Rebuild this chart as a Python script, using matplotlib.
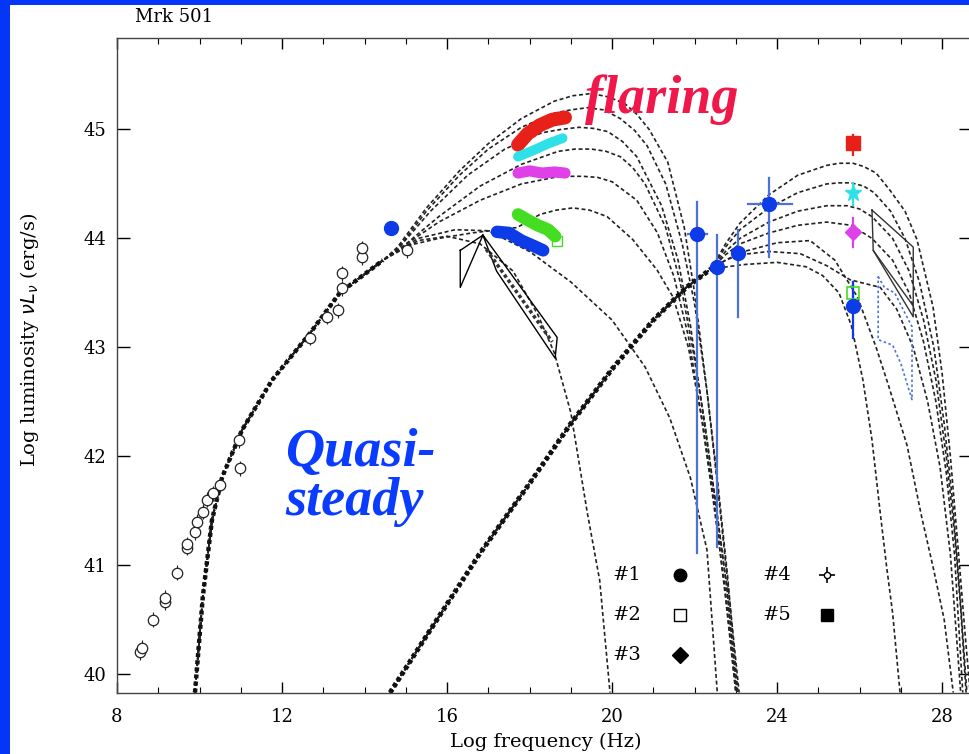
import matplotlib.pyplot as plt
from matplotlib.patches import Rectangle
from matplotlib.ticker import MultipleLocator

W, H = 969, 754

# ---- synchrotron models: shared low-frequency branch + one tail per model
sync_base_nu = [9.89, 10.08, 10.30, 10.55, 11.03, 11.76, 12.68, 13.40, 14.45]
sync_base_L = [39.83, 40.71, 41.41, 41.81, 42.24, 42.70, 43.13, 43.50, 43.80]

syn_q_nu = [15.3, 16.0, 16.8, 17.6, 18.2, 18.6, 19.0, 19.4, 19.7, 19.95]
syn_q_L = [43.98, 44.02, 43.95, 43.70, 43.30, 42.95, 42.40, 41.48, 40.86, 39.83]
syn_f_nu = [15.3, 16.2, 17.0, 18.0, 19.0, 20.0, 20.8, 21.4, 21.9, 22.3, 22.55]
syn_f_L = [44.00, 44.08, 44.07, 43.88, 43.60, 43.25, 42.82, 42.35, 41.80, 41.14, 39.83]
syn_e_nu = [15.0, 15.8, 16.6, 17.7, 18.25, 18.65, 19.05, 19.45, 19.88, 20.5, 21.09, 21.48, 21.85, 22.2, 22.5, 22.75, 23.0]
syn_e_L = [43.93, 44.00, 44.05, 44.10, 44.22, 44.26, 44.28, 44.26, 44.20, 43.99, 43.71, 43.46, 43.00, 42.30, 41.50, 40.70, 39.83]
syn_d_nu = [14.9, 15.8, 16.8, 17.8, 18.6, 18.95, 19.3, 19.65, 20.0, 20.6, 21.1, 21.5, 21.85, 22.15, 22.45, 22.75, 23.0]
syn_d_L = [43.92, 44.15, 44.35, 44.50, 44.56, 44.57, 44.57, 44.56, 44.52, 44.35, 44.05, 43.65, 43.10, 42.40, 41.60, 40.75, 39.83]
syn_c_nu = [14.85, 15.8, 16.8, 17.8, 18.7, 19.1, 19.5, 19.85, 20.2, 20.5, 20.8, 21.3, 21.65, 21.95, 22.25, 22.5, 22.78, 23.02]
syn_c_L = [43.90, 44.20, 44.48, 44.68, 44.80, 44.82, 44.82, 44.80, 44.75, 44.65, 44.50, 44.10, 43.60, 43.00, 42.30, 41.60, 40.80, 39.83]
syn_b_nu = [14.8, 15.6, 16.5, 17.4, 18.3, 18.75, 19.2, 19.55, 19.9, 20.25, 20.6, 21.2, 21.6, 21.9, 22.2, 22.5, 22.78, 23.03]
syn_b_L = [43.90, 44.25, 44.58, 44.82, 44.97, 45.00, 45.02, 45.01, 44.98, 44.89, 44.75, 44.30, 43.80, 43.20, 42.40, 41.60, 40.80, 39.83]
syn_a2_nu = [14.8, 15.5, 16.3, 17.0, 17.8, 18.6, 19.0, 19.4, 19.8, 20.2, 20.55, 20.85, 21.3, 21.7, 22.0, 22.3, 22.55, 22.8, 23.05]
syn_a2_L = [43.90, 44.25, 44.58, 44.82, 45.02, 45.15, 45.18, 45.20, 45.18, 45.10, 44.99, 44.85, 44.50, 43.95, 43.40, 42.60, 41.80, 40.90, 39.83]
syn_a_nu = [14.8, 15.5, 16.3, 17.0, 17.8, 18.6, 19.05, 19.5, 19.9, 20.3, 20.6, 20.9, 21.35, 21.75, 22.0, 22.3, 22.55, 22.8, 23.08]
syn_a_L = [43.92, 44.28, 44.62, 44.87, 45.10, 45.26, 45.31, 45.33, 45.30, 45.24, 45.14, 45.00, 44.70, 44.10, 43.50, 42.60, 41.75, 40.85, 39.83]

# ---- inverse Compton models: shared rising branch + tails
ic_base_nu = [14.62, 15.5, 16.8, 18.0, 19.0, 20.0, 21.0, 21.8, 22.4]
ic_base_L = [39.83, 40.35, 41.11, 41.75, 42.30, 42.80, 43.25, 43.55, 43.72]

ic_a_nu = [22.75, 23.1, 23.8, 24.5, 25.2, 25.5, 25.84, 26.1, 26.4, 26.74, 27.1, 27.39, 27.78, 28.0, 28.2, 28.4, 28.55, 28.68]
ic_a_L = [43.95, 44.14, 44.40, 44.58, 44.67, 44.69, 44.69, 44.66, 44.60, 44.44, 44.25, 43.99, 43.37, 42.76, 42.00, 41.10, 40.40, 39.83]
ic_b_nu = [22.75, 23.1, 23.8, 24.5, 25.2, 25.5, 25.8, 26.1, 26.35, 26.75, 27.1, 27.45, 27.8, 28.05, 28.25, 28.42, 28.6]
ic_b_L = [43.92, 44.08, 44.28, 44.42, 44.50, 44.51, 44.51, 44.48, 44.42, 44.25, 44.00, 43.60, 43.00, 42.30, 41.60, 40.80, 39.83]
ic_c_nu = [22.75, 23.1, 23.8, 24.5, 25.2, 25.7, 26.0, 26.3, 26.8, 27.2, 27.55, 27.85, 28.1, 28.3, 28.45, 28.58]
ic_c_L = [43.88, 44.00, 44.15, 44.25, 44.30, 44.30, 44.27, 44.20, 44.00, 43.70, 43.25, 42.70, 42.00, 41.30, 40.60, 39.83]
ic_d_nu = [22.75, 23.1, 23.8, 24.5, 25.2, 25.8, 26.3, 26.8, 27.2, 27.55, 27.85, 28.1, 28.3, 28.5]
ic_d_L = [43.85, 43.95, 44.05, 44.12, 44.15, 44.12, 44.00, 43.80, 43.50, 43.05, 42.50, 41.85, 41.10, 39.83]
ic_e_nu = [22.75, 23.1, 23.8, 24.56, 25.2, 25.77, 26.5, 26.9, 27.3, 27.65, 27.95, 28.2, 28.45]
ic_e_L = [43.80, 43.85, 43.88, 43.86, 43.75, 43.62, 43.55, 43.35, 43.00, 42.50, 41.90, 41.10, 39.83]
ic_l2_nu = [22.8, 23.2, 24.0, 24.8, 25.4, 25.95, 26.4, 26.7, 27.15, 27.5, 27.8, 28.05, 28.27]
ic_l2_L = [43.81, 43.88, 43.96, 43.98, 43.80, 43.46, 43.00, 42.65, 42.10, 41.45, 40.95, 40.50, 39.83]
ic_l1_nu = [22.8, 23.2, 24.0, 24.7, 25.1, 25.5, 25.8, 26.08, 26.3, 26.5, 26.65, 26.8, 26.98]
ic_l1_L = [43.74, 43.76, 43.78, 43.74, 43.66, 43.50, 43.20, 42.70, 42.15, 41.48, 41.00, 40.56, 39.83]

sync_tails = [(syn_q_nu, syn_q_L), (syn_f_nu, syn_f_L), (syn_e_nu, syn_e_L),
              (syn_d_nu, syn_d_L), (syn_c_nu, syn_c_L), (syn_b_nu, syn_b_L),
              (syn_a2_nu, syn_a2_L), (syn_a_nu, syn_a_L)]
ic_tails = [(ic_a_nu, ic_a_L), (ic_b_nu, ic_b_L), (ic_c_nu, ic_c_L), (ic_d_nu, ic_d_L),
            (ic_e_nu, ic_e_L), (ic_l2_nu, ic_l2_L), (ic_l1_nu, ic_l1_L)]

# ---- radio / optical archival points (open circles)
radio_nu = [8.56, 8.60, 8.87, 9.16, 9.16, 9.45, 9.70, 9.70, 9.89, 9.94, 10.08, 10.18,
            10.33, 10.50, 10.98, 10.95, 12.68, 13.10, 13.36, 13.45, 13.45, 13.94, 13.94, 15.03]
radio_L = [40.20, 40.24, 40.50, 40.66, 40.70, 40.93, 41.16, 41.19, 41.30, 41.40, 41.49, 41.60,
           41.66, 41.74, 41.89, 42.15, 43.09, 43.28, 43.34, 43.54, 43.68, 43.83, 43.91, 43.89]

# ---- X-ray spectra for the five states (drawn as thick bands)
xr_red_nu = [17.72, 17.95, 18.25, 18.55, 18.86]
xr_red_L = [44.86, 44.96, 45.04, 45.09, 45.11]
xr_cyan_nu = [17.72, 18.1, 18.45, 18.8]
xr_cyan_L = [44.75, 44.81, 44.87, 44.92]
xr_mag_nu = [17.72, 18.0, 18.3, 18.6, 18.86]
xr_mag_L = [44.60, 44.62, 44.60, 44.61, 44.60]
xr_green_nu = [17.72, 17.95, 18.2, 18.45, 18.62]
xr_green_L = [44.22, 44.17, 44.12, 44.08, 44.02]
xr_blue_nu = [17.21, 17.5, 17.8, 18.1, 18.33]
xr_blue_L = [44.06, 44.05, 43.98, 43.93, 43.89]

# ---- gamma-ray points (quasi-steady, blue) with error bars
gam_nu = [22.06, 22.55, 23.05, 23.80]
gam_L = [44.04, 43.74, 43.87, 44.32]
gam_lo = [41.11, 41.17, 43.28, 43.83]
gam_hi = [44.33, 44.03, 44.08, 44.55]
gam_xlo = [21.84, 22.55, 23.05, 23.30]
gam_xhi = [22.30, 22.55, 23.05, 24.36]

# ---- TeV points for states #1..#5 at log nu = 25.84
tev_nu = 25.84
tev_L = {"red": 44.88, "cyan": 44.42, "mag": 44.06, "green": 43.50, "blue": 43.38}
tev_err = {"red": (44.77, 44.95), "cyan": (44.31, 44.51), "mag": (43.92, 44.19),
           "green": (43.40, 43.60), "blue": (43.09, 43.60)}

# ---- bowties
bt_opt_nu = [16.32, 16.87, 16.32, 16.32]
bt_opt_L = [43.89, 44.03, 43.55, 43.89]
bt_x_nu = [16.87, 18.67, 18.62, 17.20, 16.87]
bt_x_L = [44.03, 43.09, 42.90, 43.70, 44.03]
bt_x_in_nu = [16.95, 18.55]
bt_x_in_L = [43.90, 43.05]
bt_tev_nu = [26.30, 27.30, 27.30, 26.33, 26.30]
bt_tev_L = [44.26, 43.92, 43.28, 43.89, 44.26]
bt_tev2_nu = [26.33, 27.30]
bt_tev2_L = [43.89, 43.38]
bt_blue_nu = [26.45, 26.6, 26.85, 27.05, 27.27, 27.27, 27.0, 26.8, 26.45, 26.45]
bt_blue_L = [43.65, 43.55, 43.50, 43.35, 43.19, 42.52, 42.85, 43.02, 43.07, 43.65]

BLUE = '#0d3be8'
EBLUE = '#4a72d8'
DASH = (0, (2.4, 1.6))

fig = plt.figure(figsize=(W / 100, H / 100), dpi=100)
fig.patch.set_facecolor('#0536f7')
fig.add_artist(Rectangle((10 / W, 0), 1, 1 - 5 / H, transform=fig.transFigure,
                         facecolor='white', edgecolor='none', zorder=-1))
ax = fig.add_axes([117 / W, 61 / H, 854 / W, 655 / H])
ax.set_xlim(8, 28.7)
ax.set_ylim(39.826, 45.84)

# model curves
for tn, tl in sync_tails:
    ax.plot(sync_base_nu + tn, sync_base_L + tl, color='#222222', lw=1.2, ls=DASH, zorder=2)
ax.plot(sync_base_nu, sync_base_L, color='#111111', lw=3.2, ls=(0, (0.9, 0.7)), zorder=2)
for tn, tl in ic_tails:
    ax.plot(ic_base_nu + tn, ic_base_L + tl, color='#222222', lw=1.2, ls=DASH, zorder=2)
ax.plot(ic_base_nu, ic_base_L, color='#111111', lw=3.6, ls=(0, (0.8, 0.6)), zorder=2)

# bowties
ax.plot(bt_opt_nu, bt_opt_L, color='black', lw=1.0, zorder=3)
ax.plot(bt_x_nu, bt_x_L, color='black', lw=1.0, zorder=3)
ax.plot(bt_x_in_nu, bt_x_in_L, color='#333333', lw=2.5, ls=(0, (1, 0.8)), zorder=3)
ax.plot(bt_tev_nu, bt_tev_L, color='#333333', lw=1.0, zorder=3)
ax.plot(bt_tev2_nu, bt_tev2_L, color='#333333', lw=1.0, zorder=3)
ax.plot(bt_blue_nu, bt_blue_L, color=EBLUE, lw=1.2, ls=(0, (1.5, 1.5)), zorder=3)

# radio / optical archive
ax.errorbar(radio_nu, radio_L, yerr=0.07, fmt='o', ms=7.5, mfc='white', mec='#222222',
            mew=0.9, ecolor='#222222', elinewidth=0.8, zorder=4)

# X-ray bands
for xn, xl, col, lw in [(xr_red_nu, xr_red_L, '#e8201a', 10), (xr_cyan_nu, xr_cyan_L, '#2ee0e8', 7),
                        (xr_mag_nu, xr_mag_L, '#e040e8', 8), (xr_green_nu, xr_green_L, '#44dd22', 9),
                        (xr_blue_nu, xr_blue_L, BLUE, 9)]:
    ax.plot(xn, xl, color=col, lw=lw, solid_capstyle='round', zorder=5)
ax.plot(xr_green_nu[-1] + 0.05, xr_green_L[-1] - 0.04, 's', ms=7, mfc='none', mec='#44dd22', zorder=5)

# optical quasi-steady point
ax.plot(14.64, 44.10, 'o', ms=10, color=BLUE, zorder=5)

# gamma-ray points
for n, l, lo, hi, xlo, xhi in zip(gam_nu, gam_L, gam_lo, gam_hi, gam_xlo, gam_xhi):
    ax.plot([n, n], [lo, hi], color=EBLUE, lw=1.6, zorder=4)
    if xhi > xlo:
        ax.plot([xlo, xhi], [l, l], color=EBLUE, lw=1.6, zorder=4)
    ax.plot(n, l, 'o', ms=10, color=BLUE, zorder=5)

# TeV points
tev_style = {"red": ('s', '#e8201a', 10), "cyan": ('*', '#2ee0e8', 12), "mag": ('D', '#e040e8', 8),
             "green": ('s', 'none', 8), "blue": ('o', BLUE, 10)}
tev_ecol = {"red": '#e8201a', "cyan": '#2ee0e8', "mag": '#e040e8', "green": '#44dd22', "blue": BLUE}
for key in ["red", "cyan", "mag", "green", "blue"]:
    lo, hi = tev_err[key]
    ax.plot([tev_nu, tev_nu], [lo, hi], color=tev_ecol[key], lw=1.6, zorder=4)
    m, c, s = tev_style[key]
    if key == "green":
        ax.plot(tev_nu, tev_L[key], m, ms=s, mfc='none', mec='#44dd22', mew=1.2, zorder=5)
    else:
        ax.plot(tev_nu, tev_L[key], m, ms=s, color=c, zorder=6 if key == "blue" else 5)

# key for the five states
key_labels = ['#1', '#2', '#3', '#4', '#5']
key_col = [0, 0, 0, 1, 1]
key_row = [0, 1, 2, 0, 1]
txt_x = [0.597, 0.773]
mk_x = [0.659, 0.831]
for lab, c, r in zip(key_labels, key_col, key_row):
    y = 0.180 - r * 0.061
    ax.text(txt_x[c], y, lab, transform=ax.transAxes, ha='center', va='center',
            fontsize=14, family='DejaVu Serif')
    if lab == '#1':
        ax.plot(mk_x[c], y, 'o', ms=9, color='black', transform=ax.transAxes)
    elif lab == '#2':
        ax.plot(mk_x[c], y, 's', ms=8, mfc='white', mec='black', mew=1.0, transform=ax.transAxes)
    elif lab == '#3':
        ax.plot(mk_x[c], y, 'D', ms=8, color='black', transform=ax.transAxes)
    elif lab == '#4':
        ax.plot(mk_x[c], y, '+', ms=11, mew=1.2, color='black', transform=ax.transAxes)
        ax.plot(mk_x[c], y, 'o', ms=4.5, mfc='white', mec='black', mew=1.0, transform=ax.transAxes)
    else:
        ax.plot(mk_x[c], y, 's', ms=8.5, color='black', transform=ax.transAxes)

# axes cosmetics
ax.spines['right'].set_visible(False)
for sp in ['left', 'top', 'bottom']:
    ax.spines[sp].set_color('#444444')
    ax.spines[sp].set_linewidth(1.0)
ax.xaxis.set_major_locator(MultipleLocator(4))
ax.xaxis.set_minor_locator(MultipleLocator(1))
ax.yaxis.set_major_locator(MultipleLocator(1))
ax.tick_params(axis='x', which='major', direction='in', top=True, length=8, width=1, pad=11, labelsize=13)
ax.tick_params(axis='x', which='minor', direction='in', top=True, length=4, width=0.8)
ax.tick_params(axis='y', which='major', direction='in', right=True, length=9, width=1, pad=8, labelsize=13)
for lab in ax.get_xticklabels() + ax.get_yticklabels():
    lab.set_family('DejaVu Serif')

fig.text(546 / W, 1 - 742 / H, 'Log frequency (Hz)', ha='center', va='center',
         fontsize=14, family='DejaVu Serif')
fig.text(30 / W, 1 - 340 / H, r'Log luminosity $\nu L_\nu$ (erg/s)', ha='center', va='center',
         rotation=90, fontsize=14, family='DejaVu Serif')
fig.text(135 / W, 1 - 17 / H, 'Mrk 501', ha='left', va='center', fontsize=13, family='DejaVu Serif')

fig.text(585 / W, 1 - 113 / H, 'flaring', ha='left', va='baseline', fontsize=39,
         family='Liberation Serif', weight='bold', style='italic', color='#f0184a')
fig.text(285 / W, 1 - 466 / H, 'Quasi-', ha='left', va='baseline', fontsize=39,
         family='Liberation Serif', weight='bold', style='italic', color='#0a3cff')
fig.text(285 / W, 1 - 515 / H, 'steady', ha='left', va='baseline', fontsize=39,
         family='Liberation Serif', weight='bold', style='italic', color='#0a3cff')

fig.savefig('out.png', dpi=100)
